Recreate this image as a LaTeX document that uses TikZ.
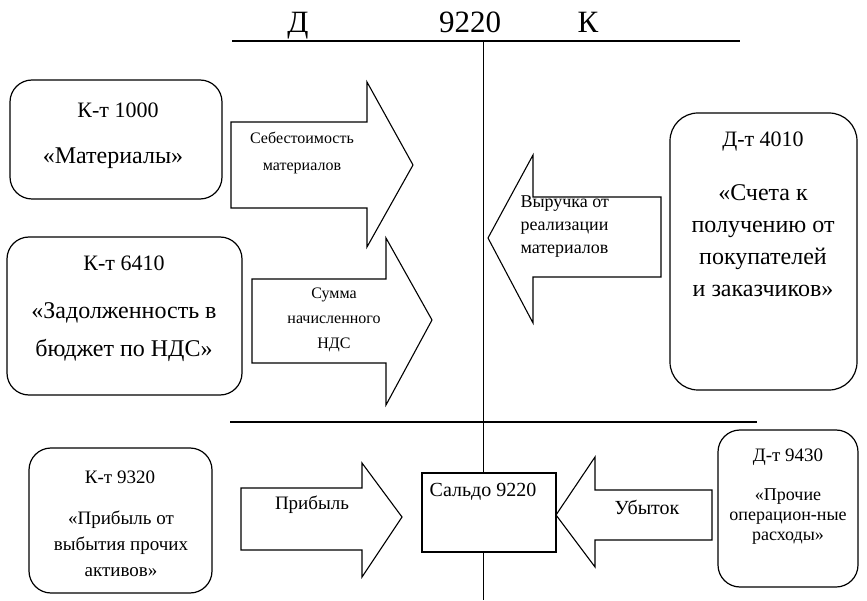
\documentclass[tikz,border=0pt]{standalone}
\usepackage{fontspec}
\setmainfont{Liberation Serif}
\usetikzlibrary{positioning}

\begin{document}
\begin{tikzpicture}[x=1pt,y=-1pt,
	acct/.style={draw,line width=1.2pt,rounded corners=22pt,inner sep=0pt},
	blk/.style={draw,line width=1.1pt,line join=miter},
	hdr/.style={font=\fontsize{31}{36}\selectfont,anchor=base},
	num/.style={font=\fontsize{22}{32}\selectfont,align=center},
	big/.style={font=\fontsize{24}{32}\selectfont,align=center},
	mid/.style={font=\fontsize{16}{25}\selectfont,align=center},
	sml/.style={font=\fontsize{19}{26}\selectfont,align=center}]
	\useasboundingbox (0,0) rectangle (867,601);
	\draw[line width=1.1pt] (232,41) -- (740,41);
	\draw[line width=1.1pt] (230,422) -- (757,422);
	\draw[line width=0.8pt] (483,41) -- (483,600);
	\node[hdr] (deb) at (298,33) {Д};
	\node[hdr] (acc) at (470,33) {9220};
	\node[hdr] (cred) at (588,33) {К};

	\node[acct,minimum width=212pt,minimum height=119pt] (mat) at (116,139.5) {};
	\node[num] (matnum) at (118,110) {К-т 1000};
	\node[big] (matname) at (113,158) {«Материалы»};
	\node[acct,minimum width=235pt,minimum height=158pt] (nds) at (124.5,316) {};
	\node[num] (ndsnum) at (124,263) {К-т 6410};
	\node[big,font=\fontsize{24}{38}\selectfont] (ndsname) at (124,332) {«Задолженность в\\бюджет по НДС»};
	\node[acct,rounded corners=28pt,minimum width=187pt,minimum height=277pt] (sch) at (763.5,251.5) {};
	\node[num] (schnum) at (763,142) {Д-т 4010};
	\node[big] (schname) at (763,240.5) {«Счета к\\получению от\\покупателей\\и заказчиков»};

	\draw[blk] (231,122) -- (367,122) -- (367,82) -- (413,165) -- (367,247) -- (367,208) -- (231,208) -- cycle;
	\node[mid,font=\fontsize{16}{27}\selectfont] (cost) at (302,153) {Себестоимость\\материалов};
	\draw[blk] (252,279) -- (386,279) -- (386,238) -- (432,320) -- (386,405) -- (386,363) -- (252,363) -- cycle;
	\node[mid] (vat) at (334,320) {Сумма\\начисленного\\НДС};
	\draw[blk] (661,197) -- (533,197) -- (533,155) -- (488,238) -- (533,323) -- (533,277) -- (661,277) -- cycle;
	\node[mid,align=left,font=\fontsize{18}{23}\selectfont,anchor=west] (rev) at (517,227) {Выручка от\\реализации\\материалов};

	\node[acct,minimum width=183pt,minimum height=145pt] (prf) at (120.5,520.5) {};
	\node[sml] (prfnum) at (120,477) {К-т 9320};
	\node[sml] (prfname) at (121,544) {«Прибыль от\\выбытия прочих\\активов»};
	\draw[blk] (241,488) -- (362,488) -- (362,463) -- (402,517) -- (362,577) -- (362,550) -- (241,550) -- cycle;
	\node[sml] (gain) at (312,505) {Прибыль};
	\node[draw,line width=1.2pt,fill=white,minimum width=134pt,minimum height=79pt,inner sep=0pt] (bal) at (489,512.5) {};
	\node[sml,font=\fontsize{20}{26}\selectfont] (balt) at (483,492) {Сальдо 9220};
	\draw[blk] (712,490) -- (595,490) -- (595,457) -- (556,515) -- (595,567) -- (595,540) -- (712,540) -- cycle;
	\node[sml,font=\fontsize{20}{26}\selectfont] (loss) at (647,507) {Убыток};
	\node[acct,minimum width=140pt,minimum height=157pt] (oth) at (788,508.5) {};
	\node[sml] (othnum) at (788,457) {Д-т 9430};
	\node[sml,font=\fontsize{18}{20}\selectfont] (othname) at (788,517) {«Прочие\\операцион-ные\\расходы»};
\end{tikzpicture}
\end{document}
